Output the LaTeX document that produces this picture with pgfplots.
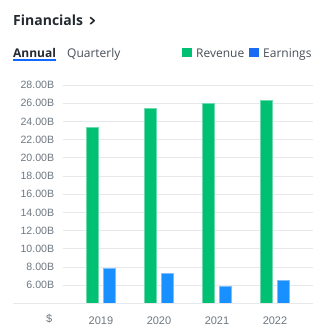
\documentclass[border=0pt]{standalone}
\usepackage{pgfplots}
\pgfplotsset{compat=1.18}
\usepackage{fontspec}
\setmainfont{Open Sans}
\newfontfamily\tickfont{Liberation Sans}
\definecolor{revgreen}{HTML}{00C073}
\definecolor{revedge}{HTML}{6ED9AC}
\definecolor{earnblue}{HTML}{1890FF}
\definecolor{earnedge}{HTML}{7DBDFF}
\definecolor{legblue}{HTML}{1A6CF5}
\definecolor{titlecol}{HTML}{232A31}
\definecolor{subcol}{HTML}{464E56}
\definecolor{tickcol}{HTML}{6E7780}
\definecolor{gridcol}{HTML}{E6E8EB}
\definecolor{ulblue}{HTML}{0F69FF}
\begin{document}
\begin{tikzpicture}[x=1pt,y=1pt]
\path (0,0) rectangle (325,331);
% header
\node[anchor=base west,inner sep=0,text=titlecol,font=\fontsize{14}{16}\selectfont\bfseries] at (13,305.3) {Financials};
\draw[titlecol,line width=1.6pt,line cap=round,line join=round] (90.5,313.5) -- (94.2,310.3) -- (90.5,307.1);
\node[anchor=base west,inner sep=0,text=titlecol,font=\fontsize{12}{14}\selectfont\bfseries] at (13,273.7) {Annual};
\fill[ulblue] (13,269.5) rectangle (56,271.5);
\node[anchor=base west,inner sep=0,text=subcol,font=\fontsize{12}{14}\selectfont] at (67,273.7) {Quarterly};
\fill[revgreen] (182,273.7) rectangle (192,283.3);
\node[anchor=base west,inner sep=0,text=subcol,font=\fontsize{12}{14}\selectfont] at (196,273.7) {Revenue};
\fill[legblue] (249,273.7) rectangle (259,283.3);
\node[anchor=base west,inner sep=0,text=subcol,font=\fontsize{12}{14}\selectfont] at (263,273.7) {Earnings};
\begin{axis}[
  at={(62.7pt,27.5pt)}, anchor=south west,
  scale only axis, width=250pt, height=218.5pt,
  xmin=-0.66, xmax=3.65, ymin=4, ymax=28,
  axis line style={draw=none},
  tick style={draw=none},
  ymajorgrids, grid style={gridcol, line width=0.8pt},
  ytick={6,8,10,12,14,16,18,20,22,24,26,28},
  yticklabels={6.00B,8.00B,10.00B,12.00B,14.00B,16.00B,18.00B,20.00B,22.00B,24.00B,26.00B,28.00B},
  xtick={0,1,2,3},
  xticklabels={2019,2020,2021,2022},
  yticklabel style={font=\tickfont\fontsize{10.6}{12}\selectfont, text=tickcol, xshift=-5pt},
  xticklabel style={font=\tickfont\fontsize{11}{13}\selectfont, text=tickcol, yshift=-6pt},
  ybar, bar width=12.3pt,
]
\addplot[fill=revgreen, draw=revedge, line width=0.7pt, bar shift=-8.4pt] coordinates {(0,23.3) (1,25.4) (2,26.0) (3,26.33)};
\addplot[fill=earnblue, draw=earnedge, line width=0.7pt, bar shift=8.4pt] coordinates {(0,7.85) (1,7.26) (2,5.89) (3,6.55)};
\end{axis}
\draw[gridcol, line width=1pt] (12.5,27.5) -- (312.7,27.5);
\node[anchor=base,inner sep=0,text=tickcol,font=\tickfont\fontsize{11}{13}\selectfont] at (49.2,9) {\$};
\end{tikzpicture}
\end{document}
